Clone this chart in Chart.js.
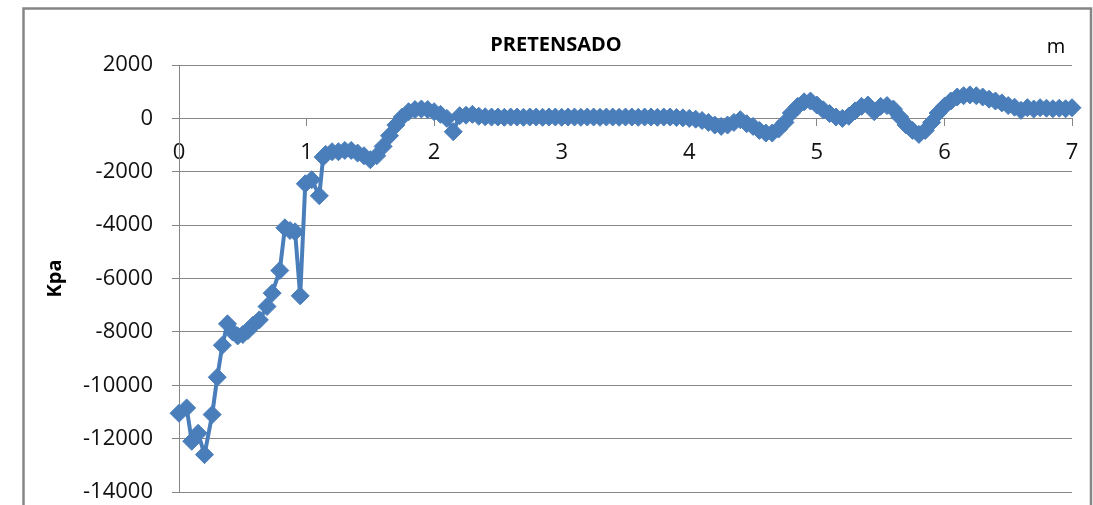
<!DOCTYPE html>
<html>
<head>
<meta charset="utf-8">
<title>PRETENSADO</title>
<script src="https://cdn.jsdelivr.net/npm/chart.js@4.4.1/dist/chart.umd.min.js"></script>
<style>
    body { margin: 0; background: #fff; }
    #caja { width: 1093px; height: 505px; }
</style>
</head>
<body>
<div id="caja"><canvas id="graficoTensiones" width="1093" height="505"></canvas></div>
<script>
// Datos: distancia (m) y tensión (Kpa)
const distancias = [
    0, 0.06, 0.10, 0.15, 0.20, 0.26, 0.30, 0.34, 0.38, 0.42,
    0.46, 0.50, 0.54, 0.58, 0.63, 0.69, 0.73, 0.79, 0.83, 0.87,
    0.91, 0.95, 0.99, 1.04, 1.10, 1.13,
    1.15, 1.20, 1.25, 1.30, 1.35, 1.40, 1.45, 1.50, 1.55, 1.60,
    1.65, 1.70, 1.75, 1.80, 1.85, 1.90, 1.95, 2.00, 2.05, 2.10,
    2.15, 2.20, 2.25, 2.30, 2.35, 2.40, 2.45, 2.50, 2.55, 2.60,
    2.65, 2.70, 2.75, 2.80, 2.85, 2.90, 2.95, 3.00, 3.05, 3.10,
    3.15, 3.20, 3.25, 3.30, 3.35, 3.40, 3.45, 3.50, 3.55, 3.60,
    3.65, 3.70, 3.75, 3.80, 3.85, 3.90, 3.95, 4.00, 4.05, 4.10,
    4.15, 4.20, 4.25, 4.30, 4.35, 4.40, 4.45, 4.50, 4.55, 4.60,
    4.65, 4.70, 4.75, 4.80, 4.85, 4.90, 4.95, 5.00, 5.05, 5.10,
    5.15, 5.20, 5.25, 5.30, 5.35, 5.40, 5.45, 5.50, 5.55, 5.60,
    5.65, 5.70, 5.75, 5.80, 5.85, 5.90, 5.95, 6.00, 6.05, 6.10,
    6.15, 6.20, 6.25, 6.30, 6.35, 6.40, 6.45, 6.50, 6.55, 6.60,
    6.65, 6.70, 6.75, 6.80, 6.85, 6.90, 6.95, 7.00
];
const tensiones = [
    -11050, -10850, -12100, -11800, -12600, -11100, -9700, -8500, -7700, -8000,
    -8150, -8100, -7950, -7750, -7550, -7050, -6550, -5700, -4100, -4200,
    -4250, -6650, -2450, -2300, -2900, -1450,
    -1350, -1250, -1250, -1200, -1200, -1300, -1400, -1550, -1400, -1050,
    -650, -250, 50, 250, 330, 350, 330, 250, 150, 0,
    -500, 100, 120, 150, 80, 60, 50, 50, 40, 50,
    50, 40, 50, 50, 40, 50, 50, 40, 50, 50,
    40, 50, 50, 40, 50, 50, 40, 50, 50, 40,
    50, 50, 40, 50, 50, 30, 20, 0, -30, -80,
    -150, -250, -300, -250, -150, -50, -200, -300, -450, -550,
    -550, -400, -150, 200, 450, 620, 650, 500, 320, 180,
    50, 0, 80, 280, 450, 500, 250, 450, 480, 350,
    50, -250, -450, -600, -450, -150, 200, 450, 650, 800,
    850, 880, 850, 800, 720, 650, 580, 480, 420, 300,
    400, 350, 400, 380, 360, 380, 360, 400
];
const ticksX = [0, 1, 2, 3, 4, 5, 6, 7];
const ticksY = [2000, 0, -2000, -4000, -6000, -8000, -10000, -12000, -14000];

const azul = '#4A7EBB';
const gris = '#868686';
const fuente = '"Open Sans", "Liberation Sans", sans-serif';

// Marco exterior, título y unidad del eje x
const decoracion = {
    id: 'decoracion',
    beforeDraw(chart) {
        const ctx = chart.ctx;
        ctx.save();
        ctx.fillStyle = '#fff';
        ctx.fillRect(0, 0, chart.width, chart.height);
        ctx.strokeStyle = gris;
        ctx.lineWidth = 2.5;
        ctx.strokeRect(23.5, 8.5, 1067.5, 600);
        ctx.restore();
    },
    afterDraw(chart) {
        const ctx = chart.ctx;
        ctx.save();
        ctx.fillStyle = '#000';
        ctx.textBaseline = 'alphabetic';
        ctx.textAlign = 'center';
        ctx.font = 'bold 20px ' + fuente;
        ctx.fillText('PRETENSADO', 556, 51);
        ctx.font = '20px ' + fuente;
        ctx.fillText('m', 1056, 53);
        ctx.restore();
    }
};

const puntos = distancias.map((d, i) => ({ x: d, y: tensiones[i] }));

new Chart(document.getElementById('graficoTensiones').getContext('2d'), {
    type: 'line',
    data: {
        datasets: [{
            data: puntos,
            borderColor: azul,
            backgroundColor: azul,
            borderWidth: 4,
            pointStyle: 'rectRot',
            pointRadius: 9,
            pointHoverRadius: 9,
            pointBorderWidth: 1,
            pointBorderColor: azul,
            pointBackgroundColor: azul,
            tension: 0,
            clip: false
        }]
    },
    options: {
        responsive: false,
        animation: false,
        layout: { padding: { left: 0, top: 65, right: 21, bottom: 13 } },
        plugins: {
            legend: { display: false },
            tooltip: { enabled: false }
        },
        scales: {
            x: {
                type: 'linear',
                position: { y: 0 },
                min: 0,
                max: 7,
                afterBuildTicks: s => { s.ticks = ticksX.map(v => ({ value: v })); },
                afterFit: s => { s.paddingLeft = 0; s.paddingRight = 0; },
                grid: { drawOnChartArea: false, color: gris, tickLength: 7 },
                border: { color: gris, width: 1 },
                ticks: {
                    color: '#111',
                    padding: 14,
                    maxRotation: 0,
                    callback: v => String(v),
                    font: { family: fuente, size: 22 }
                }
            },
            y: {
                type: 'linear',
                position: 'left',
                min: -14000,
                max: 2000,
                afterBuildTicks: s => { s.ticks = ticksY.map(v => ({ value: v })); },
                afterFit: s => { s.width = 179; s.paddingTop = 0; s.paddingBottom = 0; },
                grid: { color: gris, tickLength: 7, lineWidth: 1 },
                border: { color: gris, width: 1 },
                ticks: {
                    color: '#111',
                    padding: 19,
                    callback: v => String(v),
                    font: { family: fuente, size: 22 }
                },
                title: {
                    display: true,
                    text: 'Kpa',
                    color: '#000',
                    padding: { top: 43, bottom: 0 },
                    font: { family: fuente, size: 20, weight: 'bold' }
                }
            }
        }
    },
    plugins: [decoracion]
});
</script>
</body>
</html>
